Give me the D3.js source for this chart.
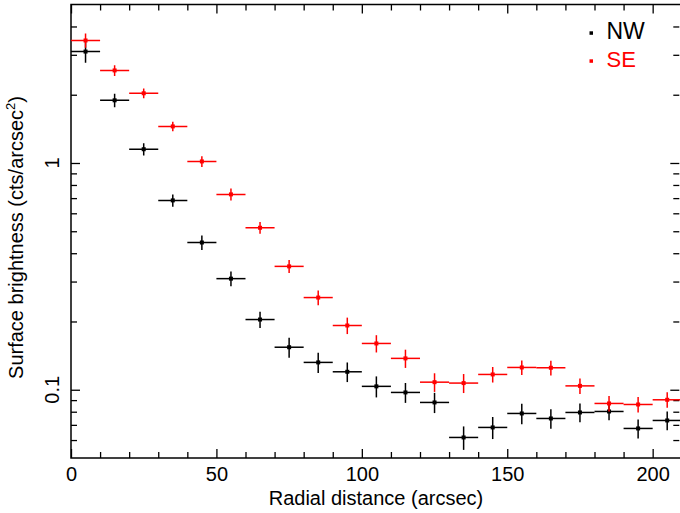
<!DOCTYPE html>
<html>
<head>
<meta charset="utf-8">
<script src="https://cdn.jsdelivr.net/npm/d3@7"></script>
<style>
  html, body { margin: 0; padding: 0; background: #fff; }
  svg { display: block; font-family: "Liberation Sans", Arial, sans-serif; }
</style>
</head>
<body>
<svg id="chart" width="680" height="513"></svg>
<script>
// ---- data ----
const radius = [5, 15, 25, 35, 45, 55, 65, 75, 85, 95, 105, 115, 125, 135, 145, 155, 165, 175, 185, 195, 205];
const binHalfWidth = 5;
const nwValues = [3.10, 1.89, 1.15, 0.684, 0.446, 0.309, 0.204, 0.154, 0.132, 0.120, 0.1035, 0.0973, 0.0879, 0.0616, 0.0682, 0.0786, 0.0747, 0.0794, 0.0802, 0.0675, 0.0732];
const nwErrors = [0.33, 0.13, 0.072, 0.043, 0.033, 0.023, 0.017, 0.0155, 0.0136, 0.0119, 0.011, 0.0098, 0.009, 0.0073, 0.0076, 0.0081, 0.0074, 0.0076, 0.0068, 0.0065, 0.007];
const seValues = [3.47, 2.56, 2.03, 1.45, 1.016, 0.727, 0.518, 0.350, 0.255, 0.192, 0.160, 0.1375, 0.108, 0.107, 0.1168, 0.1254, 0.125, 0.104, 0.087, 0.0861, 0.0903];
const seErrors = [0.25, 0.14, 0.10, 0.071, 0.056, 0.044, 0.031, 0.023, 0.019, 0.016, 0.014, 0.0127, 0.0102, 0.0103, 0.0092, 0.0093, 0.0093, 0.0082, 0.0069, 0.0068, 0.0071];
const seriesNames = ["NW", "SE"];
const seriesColors = ["#000000", "#ff0000"];
const xTickLabels = [0, 50, 100, 150, 200];
const yTickLabels = [0.1, 1];
const xDomain = [0, 209.4];
const yDomain = [0.05, 5];

// ---- layout ----
const L = 71, R = 680, T = 4.5, B = 458;
const svg = d3.select("#chart");
const x = d3.scaleLinear().domain(xDomain).range([L, R]);
const y = d3.scaleLog().domain(yDomain).range([B, T]);

const majorLen = 9, minorLen = 6;
const xMinor = d3.range(0, 210, 10).filter(v => !xTickLabels.includes(v));
const yMinor = [0.06, 0.07, 0.08, 0.09, 0.2, 0.3, 0.4, 0.5, 0.6, 0.7, 0.8, 0.9, 2, 3, 4, 5].filter(v => v > yDomain[0] && v < yDomain[1]);

function styleAxis(g) {
  g.select(".domain").remove();
  g.selectAll("line").attr("stroke", "#000").attr("stroke-width", 1.3);
}

// bottom axis major + labels
const gB = svg.append("g").attr("transform", `translate(0,${B})`)
  .call(d3.axisBottom(x).tickValues(xTickLabels).tickSize(-majorLen).tickPadding(9).tickFormat(d3.format("d")));
gB.call(styleAxis);
gB.selectAll("text").attr("font-size", 20).attr("fill", "#000").attr("font-family", "Liberation Sans, Arial, sans-serif");
svg.append("g").attr("transform", `translate(0,${B})`)
  .call(d3.axisBottom(x).tickValues(xMinor).tickSize(-minorLen).tickFormat("")).call(styleAxis);
// top axis
svg.append("g").attr("transform", `translate(0,${T})`)
  .call(d3.axisTop(x).tickValues(xTickLabels).tickSize(-majorLen).tickFormat("")).call(styleAxis);
svg.append("g").attr("transform", `translate(0,${T})`)
  .call(d3.axisTop(x).tickValues(xMinor).tickSize(-minorLen).tickFormat("")).call(styleAxis);
// left axis
svg.append("g").attr("transform", `translate(${L},0)`)
  .call(d3.axisLeft(y).tickValues(yTickLabels).tickSize(-majorLen).tickFormat("")).call(styleAxis);
svg.append("g").attr("transform", `translate(${L},0)`)
  .call(d3.axisLeft(y).tickValues(yMinor).tickSize(-minorLen).tickFormat("")).call(styleAxis);
// right axis
svg.append("g").attr("transform", `translate(${R - 0.7},0)`)
  .call(d3.axisRight(y).tickValues(yTickLabels).tickSize(-majorLen).tickFormat("")).call(styleAxis);
svg.append("g").attr("transform", `translate(${R - 0.7},0)`)
  .call(d3.axisRight(y).tickValues(yMinor).tickSize(-minorLen).tickFormat("")).call(styleAxis);

// frame
svg.append("rect").attr("x", L).attr("y", T).attr("width", R - L + 2).attr("height", B - T)
  .attr("fill", "none").attr("stroke", "#000").attr("stroke-width", 1.5);

// y tick labels (rotated)
svg.selectAll(".ylab").data(yTickLabels).enter().append("text")
  .attr("transform", d => `translate(58.5,${y(d)}) rotate(-90)`)
  .attr("text-anchor", "middle").attr("font-size", 20).attr("fill", "#000")
  .text(d => d3.format("~g")(d));

// axis titles
svg.append("text").attr("x", 376).attr("y", 505).attr("text-anchor", "middle")
  .attr("font-size", 20).attr("fill", "#000").text("Radial distance (arcsec)");
const yt = svg.append("text").attr("transform", "translate(23,237.5) rotate(-90)")
  .attr("text-anchor", "middle").attr("font-size", 20).attr("fill", "#000");
yt.append("tspan").text("Surface brightness (cts/arcsec");
yt.append("tspan").attr("font-size", 13).attr("dy", -8).text("2");
yt.append("tspan").attr("dy", 8).text(")");

// data
svg.append("clipPath").attr("id", "plotclip").append("rect")
  .attr("x", L).attr("y", T).attr("width", R - L).attr("height", B - T);
const plot = svg.append("g").attr("clip-path", "url(#plotclip)");

const series = [
  { name: seriesNames[0], color: seriesColors[0], vals: nwValues, errs: nwErrors },
  { name: seriesNames[1], color: seriesColors[1], vals: seValues, errs: seErrors }
];
series.forEach(s => {
  const pts = radius.map((r, i) => ({ r, v: s.vals[i], e: s.errs[i] }));
  const g = plot.append("g");
  g.selectAll(".h").data(pts).enter().append("line")
    .attr("x1", d => x(d.r - binHalfWidth)).attr("x2", d => x(d.r + binHalfWidth))
    .attr("y1", d => y(d.v)).attr("y2", d => y(d.v))
    .attr("stroke", s.color).attr("stroke-width", 1.5);
  g.selectAll(".v").data(pts).enter().append("line")
    .attr("x1", d => x(d.r)).attr("x2", d => x(d.r))
    .attr("y1", d => y(d.v - d.e)).attr("y2", d => y(d.v + d.e))
    .attr("stroke", s.color).attr("stroke-width", 1.5);
  g.selectAll(".m").data(pts).enter().append("rect")
    .attr("x", d => x(d.r) - 2).attr("y", d => y(d.v) - 2)
    .attr("width", 4).attr("height", 4).attr("fill", s.color);
});

// legend
const legY = [33, 61];
const legSize = [23, 22];
series.forEach((s, i) => {
  svg.append("rect").attr("x", 589.5).attr("y", legY[i] - 1.7).attr("width", 3.5).attr("height", 3.5).attr("fill", s.color);
  svg.append("text").attr("x", 606.5).attr("y", legY[i] + 5.5).attr("font-size", legSize[i])
    .attr("fill", s.color).text(s.name);
});
</script>
</body>
</html>
